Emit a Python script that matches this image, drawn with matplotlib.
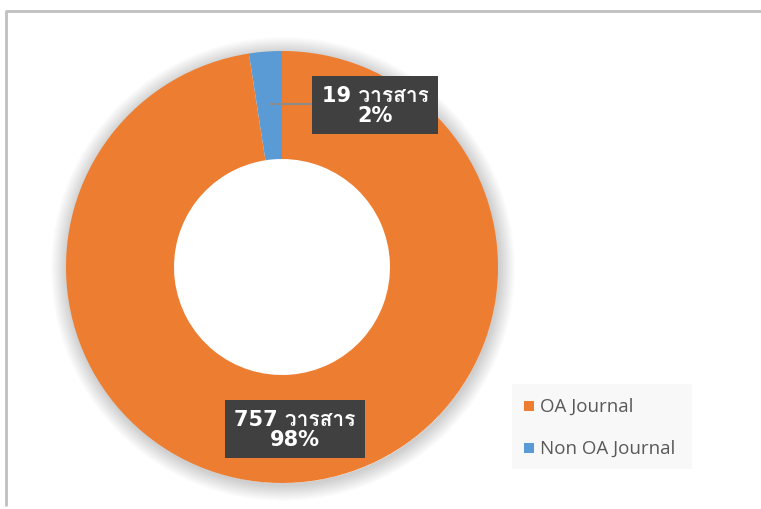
import matplotlib
matplotlib.use("Agg")
import matplotlib.pyplot as plt
from matplotlib import font_manager
from matplotlib.ft2font import FT2Font
from matplotlib.patches import Rectangle, Wedge

categories = ["OA Journal", "Non OA Journal"]
values = [757, 19]
percents = ["98%", "2%"]
unit = "วารสาร"
colors = ["#ED7D31", "#5B9BD5"]

# find a font that has Thai glyphs
thai_family = None
for fe in font_manager.fontManager.ttflist:
    try:
        f = FT2Font(fe.fname)
        if f.get_char_index(0x0E27) and f.get_char_index(0x0E23):
            thai_family = fe.name
            break
    except Exception:
        continue
fams = ["DejaVu Sans"] + ([thai_family] if thai_family else [])

W, H = 761, 510
fig = plt.figure(figsize=(W / 100, H / 100), dpi=100)
ax = fig.add_axes([0, 0, 1, 1])

cx, cy, R = 282, 510 - 268, 216

# soft outer shadow (ring only)
for k in range(16, 0, -1):
    ax.add_patch(Wedge((cx + 1, cy - 2), R + k, 0, 360, width=k + 2,
                       color="black", alpha=0.010, lw=0, zorder=0))

wedges, _ = ax.pie(values, colors=colors, startangle=90, counterclock=False,
                   radius=R, center=(cx, cy),
                   wedgeprops=dict(width=R * 0.5, linewidth=0))

ax.set_xlim(0, W)
ax.set_ylim(0, H)
ax.set_aspect("equal")
ax.axis("off")

# frame
ax.plot([6, 6, W], [H - 507, H - 12, H - 12], color="#c0c0c0", lw=2, solid_capstyle="butt", zorder=1)

box = dict(boxstyle="square,pad=0.45", fc="#404040", ec="none")
tkw = dict(color="white", fontsize=15, fontweight="bold", ha="center", va="center",
           family=fams, linespacing=1.0, zorder=5)

# leader line for small slice
ax.plot([271, 313], [H - 105, H - 105], color="#8c8c8c", lw=1.5, zorder=4)

ax.text(375, H - 106, f"{values[1]} {unit}\n{percents[1]}", bbox=box, **tkw)
ax.text(295, H - 430, f"{values[0]} {unit}\n{percents[0]}", bbox=box, **tkw)

# legend
ax.add_patch(Rectangle((512, H - 470), 180, 85, fc="#f8f8f8", ec="none", zorder=3))
for i, (lab, col) in enumerate(zip(categories, colors)):
    y = H - (407 + 42 * i)
    ax.add_patch(Rectangle((524, y - 5), 10, 10, fc=col, ec="none", zorder=4))
    ax.text(540, y, lab, fontsize=13.5, color="#595959", va="center", ha="left",
            family=["Open Sans", "DejaVu Sans"], zorder=5)

fig.savefig("out.png", dpi=100)
